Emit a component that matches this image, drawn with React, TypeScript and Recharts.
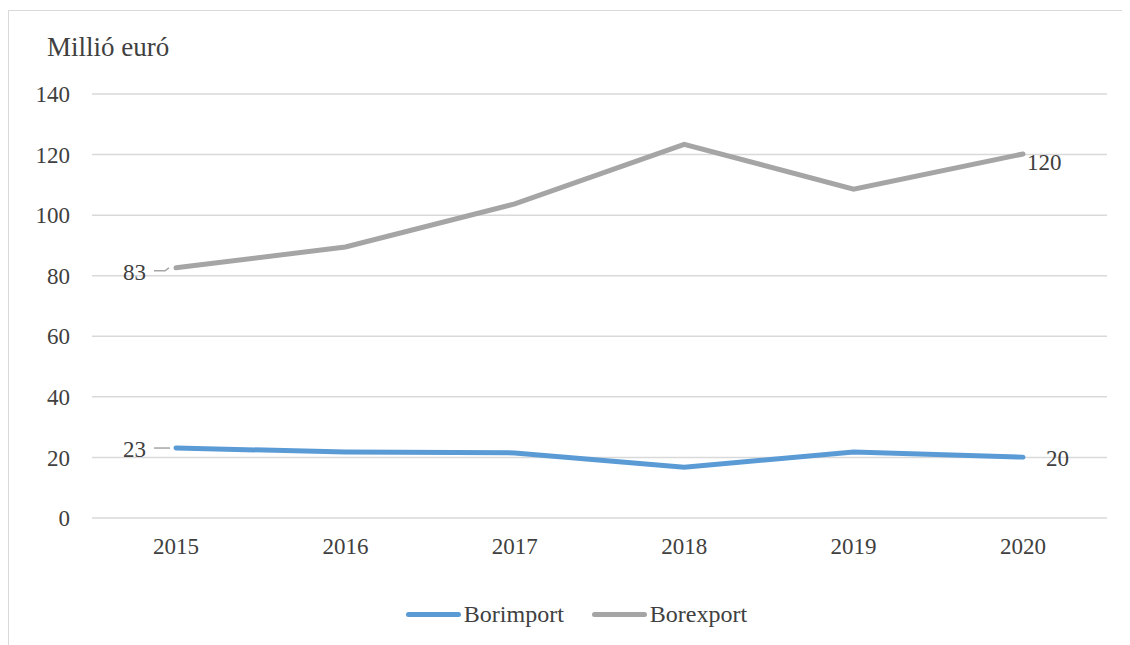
import React from "react";
import { LineChart, Line, XAxis, YAxis, CartesianGrid, LabelList } from "recharts";

const years = ["2015", "2016", "2017", "2018", "2019", "2020"];
const borimport = [23.1, 21.8, 21.5, 16.8, 21.8, 20.1];
const borexport = [82.6, 89.5, 103.7, 123.4, 108.6, 120.2];
const importLabels = ["23", "", "", "", "", "20"];
const exportLabels = ["83", "", "", "", "", "120"];
const yTicks = [0, 20, 40, 60, 80, 100, 120, 140];

const data = years.map((year, i) => ({
  year,
  borimport: borimport[i],
  borexport: borexport[i],
}));

const FONT = "'Liberation Serif', 'Times New Roman', serif";
const TEXT = "#404040";

const makeLabel = (texts: string[], series: "import" | "export") => (props: any) => {
  const { x, y, index } = props;
  const t = texts[index];
  if (!t) return null;
  if (index === 0) {
    return (
      <g>
        {series === "export" ? (
          <path d={`M ${x - 22} ${y + 3} L ${x - 11} ${y + 3} L ${x - 7} ${y}`} stroke="#a5a5a5" strokeWidth={1.5} fill="none" />
        ) : (
          <path d={`M ${x - 22} ${y} L ${x - 6} ${y}`} stroke="#a5a5a5" strokeWidth={1.5} fill="none" />
        )}
        <text x={x - 30} y={y + (series === "export" ? 5 : 1)} textAnchor="end" dominantBaseline="central" fontSize={23} fontFamily={FONT} fill={TEXT}>
          {t}
        </text>
      </g>
    );
  }
  return (
    <text
      x={series === "export" ? x + 4 : x + 23}
      y={series === "export" ? y + 9 : y + 1}
      textAnchor="start"
      dominantBaseline="central"
      fontSize={23}
      fontFamily={FONT}
      fill={TEXT}
    >
      {t}
    </text>
  );
};

const CustomLegend = () => (
  <div style={{ display: "flex", justifyContent: "center", paddingLeft: 14, fontFamily: FONT, fontSize: 24, color: TEXT }}>
    {[
      { name: "Borimport", color: "#5b9bd5" },
      { name: "Borexport", color: "#a5a5a5" },
    ].map((item, i) => (
      <div key={item.name} style={{ display: "flex", alignItems: "center", marginLeft: i ? 28 : 0 }}>
        <div style={{ width: 55, height: 5, borderRadius: 3, background: item.color, marginRight: 3 }} />
        <span>{item.name}</span>
      </div>
    ))}
  </div>
);

export default function App() {
  return (
    <div
      style={{
        position: "relative",
        marginTop: 2,
        width: 1122,
        height: 635,
        borderTop: "1px solid #d9d9d9",
        borderLeft: "1px solid #d9d9d9",
        boxSizing: "border-box",
        background: "#fff",
      }}
    >
      <div style={{ position: "absolute", left: 38, top: 21, fontFamily: FONT, fontSize: 27, color: TEXT }}>
        Millió euró
      </div>
      <LineChart width={1121} height={560} data={data} margin={{ top: 83, right: 23, left: 0, bottom: 23 }}>
        <CartesianGrid vertical={false} stroke="#d9d9d9" strokeWidth={1.5} />
        <XAxis
          dataKey="year"
          axisLine={false}
          tickLine={false}
          tickSize={0}
          tickMargin={20}
          height={30}
          padding={{ left: 84, right: 84 }}
          tick={{ fontSize: 23, fontFamily: FONT, fill: TEXT }}
        />
        <YAxis
          domain={[0, 140]}
          ticks={yTicks}
          width={83}
          axisLine={false}
          tickLine={false}
          tickSize={0}
          tickMargin={22}
          tick={{ fontSize: 23, fontFamily: FONT, fill: TEXT }}
        />
        <Line type="linear" dataKey="borimport" stroke="#5b9bd5" strokeWidth={5} dot={false} isAnimationActive={false} strokeLinecap="round">
          <LabelList dataKey="borimport" content={makeLabel(importLabels, "import")} />
        </Line>
        <Line type="linear" dataKey="borexport" stroke="#a5a5a5" strokeWidth={5} dot={false} isAnimationActive={false} strokeLinecap="round">
          <LabelList dataKey="borexport" content={makeLabel(exportLabels, "export")} />
        </Line>
      </LineChart>
      <div style={{ position: "absolute", left: 0, width: 1121, top: 590 }}>
        <CustomLegend />
      </div>
    </div>
  );
}
